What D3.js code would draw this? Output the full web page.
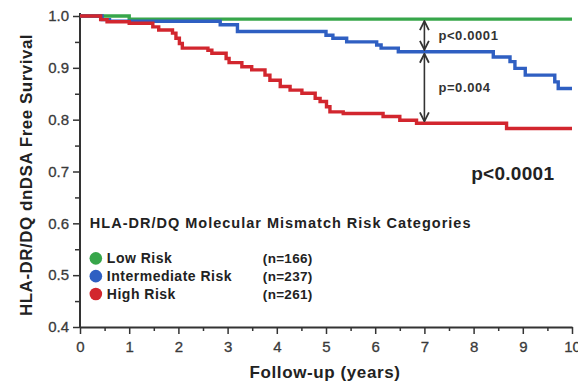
<!DOCTYPE html>
<html>
<head>
<meta charset="utf-8">
<script src="https://cdn.jsdelivr.net/npm/d3@7"></script>
<style>
  body { margin: 0; background: #fff; }
  svg { font-family: "Liberation Sans", Arial, Helvetica, sans-serif; }
</style>
</head>
<body>
<svg id="chart"></svg>
<script>
// step points: [years, survival]
const lowRisk = [[0, 1], [1.0, 0.994], [10, 0.994]];
const intermediateRisk = [[0, 1], [0.45, 0.993], [0.6, 0.99], [2.85, 0.983], [3.2, 0.970],
  [5.0, 0.963], [5.14, 0.957], [5.42, 0.950], [6.03, 0.944], [6.12, 0.938], [6.47, 0.931],
  [8.4, 0.921], [8.74, 0.912], [8.84, 0.899], [9.05, 0.886], [9.65, 0.873], [9.72, 0.860], [10, 0.860]];
const highRisk = [[0, 1], [0.42, 0.993], [0.55, 0.989], [1.0, 0.986], [1.48, 0.979], [1.6, 0.973],
  [1.88, 0.967], [1.95, 0.957], [2.02, 0.947], [2.08, 0.938], [2.6, 0.934], [2.68, 0.928],
  [2.97, 0.918], [3.03, 0.910], [3.29, 0.902], [3.49, 0.896], [3.76, 0.886], [3.86, 0.876],
  [4.07, 0.864], [4.27, 0.857], [4.51, 0.851], [4.78, 0.841], [4.88, 0.835], [5.01, 0.825],
  [5.08, 0.815], [5.35, 0.812], [6.16, 0.806], [6.5, 0.799], [6.84, 0.793], [8.67, 0.783], [10, 0.783]];

const groupNames = ['Low Risk', 'Intermediate Risk', 'High Risk'];
const groupCounts = ['(n=166)', '(n=237)', '(n=261)'];
const groupColors = ['#37a64a', '#2f5fc2', '#d2262e'];

const xTicks = [0, 1, 2, 3, 4, 5, 6, 7, 8, 9, 10];
const yTicks = [0.4, 0.5, 0.6, 0.7, 0.8, 0.9, 1.0];

// comparisons drawn at year 7
const compareAt = 7;
const compareLabels = ['p<0.0001', 'p=0.004'];
const overallP = 'p<0.0001';

const width = 578, height = 381;
const margin = {top: 16, right: 6, bottom: 54, left: 80};
const innerW = width - margin.left - margin.right;
const innerH = height - margin.top - margin.bottom;

const svg = d3.select('#chart').attr('width', width).attr('height', height);
const chart = svg.append('g').attr('transform', `translate(${margin.left},${margin.top})`);

const xscale = d3.scaleLinear().domain([0, 10]).range([0, innerW]);
const yscale = d3.scaleLinear().domain([0.4, 1.0]).range([innerH, 0]);

// minor ticks
chart.append('g')
  .attr('transform', `translate(0,${innerH})`)
  .call(d3.axisBottom(xscale).tickValues(d3.range(0.5, 10, 1)).tickSize(4).tickFormat(''))
  .call(g => g.select('.domain').remove())
  .call(g => g.selectAll('line').attr('stroke', '#333').attr('stroke-width', 1.5));
chart.append('g')
  .call(d3.axisLeft(yscale).tickValues(d3.range(0.45, 1.0, 0.1)).tickSize(5).tickFormat(''))
  .call(g => g.select('.domain').remove())
  .call(g => g.selectAll('line').attr('stroke', '#333').attr('stroke-width', 1.5));

const xaxis = chart.append('g')
  .attr('transform', `translate(0,${innerH})`)
  .call(d3.axisBottom(xscale).tickValues(xTicks).tickSize(7).tickSizeOuter(0).tickPadding(7).tickFormat(d3.format('d')));
const yaxis = chart.append('g')
  .call(d3.axisLeft(yscale).tickValues(yTicks).tickSize(7).tickSizeOuter(0).tickPadding(4).tickFormat(d3.format('.1f')));

[xaxis, yaxis].forEach(a => {
  a.select('.domain').attr('stroke', '#333').attr('stroke-width', 2);
  a.selectAll('.tick line').attr('stroke', '#333').attr('stroke-width', 1.5);
  a.selectAll('.tick text')
    .attr('font-size', '15px')
    .attr('fill', '#3a3a3a')
    .attr('stroke', '#3a3a3a')
    .attr('stroke-width', 0.3)
    .attr('font-family', 'inherit');
});
yaxis.select('.domain').attr('d', `M0,-3V${innerH}`);

// axis titles
svg.append('text')
  .attr('x', margin.left + innerW / 2 - 1)
  .attr('y', 378)
  .attr('text-anchor', 'middle')
  .attr('font-size', '17px')
  .attr('letter-spacing', '0.6px')
  .attr('font-weight', 'bold')
  .attr('fill', '#222')
  .text('Follow-up (years)');

svg.append('text')
  .attr('transform', 'rotate(-90)')
  .attr('x', -175)
  .attr('y', 32)
  .attr('text-anchor', 'middle')
  .attr('font-size', '17px')
  .attr('letter-spacing', '0.5px')
  .attr('font-weight', 'bold')
  .attr('fill', '#222')
  .text('HLA-DR/DQ dnDSA Free Survival');

// survival curves
const line = d3.line()
  .curve(d3.curveStepAfter)
  .x(d => xscale(d[0]))
  .y(d => yscale(d[1]));

[lowRisk, intermediateRisk, highRisk].forEach((s, i) => {
  chart.append('path')
    .attr('d', line(s))
    .attr('fill', 'none')
    .attr('stroke', groupColors[i])
    .attr('stroke-width', 3.4);
});

// comparison arrows at year 7
function valueAt(series, t) {
  let v = series[0][1];
  series.forEach(p => { if (p[0] <= t) v = p[1]; });
  return v;
}
const defs = svg.append('defs');
defs.append('marker')
  .attr('id', 'arrow')
  .attr('viewBox', '0 0 10 10')
  .attr('refX', 9).attr('refY', 5)
  .attr('markerWidth', 7).attr('markerHeight', 7)
  .attr('orient', 'auto-start-reverse')
  .append('path')
  .attr('d', 'M1,1L9,5L1,9')
  .attr('fill', 'none')
  .attr('stroke', '#333')
  .attr('stroke-width', 1.6);

const levels = [valueAt(lowRisk, compareAt), valueAt(intermediateRisk, compareAt), valueAt(highRisk, compareAt)];
for (let i = 0; i < 2; i++) {
  const y0 = yscale(levels[i]) + 2;
  const y1 = yscale(levels[i + 1]) - 2;
  chart.append('line')
    .attr('x1', xscale(compareAt)).attr('x2', xscale(compareAt))
    .attr('y1', y0).attr('y2', y1)
    .attr('stroke', '#333')
    .attr('stroke-width', 1.6)
    .attr('marker-start', 'url(#arrow)')
    .attr('marker-end', 'url(#arrow)');
  chart.append('text')
    .attr('x', xscale(compareAt) + 14)
    .attr('y', (y0 + y1) / 2 + 4.5)
    .attr('font-size', '13px')
    .attr('letter-spacing', '0.6px')
    .attr('font-weight', 'bold')
    .attr('fill', '#333')
    .text(compareLabels[i]);
}

chart.append('text')
  .attr('x', xscale(7.95))
  .attr('y', yscale(0.7) + 8)
  .attr('font-size', '19px')
  .attr('letter-spacing', '0.3px')
  .attr('font-weight', 'bold')
  .attr('fill', '#222')
  .text(overallP);

// legend
const legend = chart.append('g').attr('transform', `translate(${xscale(0.2)},${yscale(0.6)})`);
legend.append('text')
  .attr('x', 0).attr('y', 5)
  .attr('font-size', '14.5px')
  .attr('letter-spacing', '1px')
  .attr('font-weight', 'bold')
  .attr('fill', '#222')
  .text('HLA-DR/DQ Molecular Mismatch Risk Categories');

groupNames.forEach((name, i) => {
  const row = legend.append('g').attr('transform', `translate(0,${35 + i * 17.8})`);
  row.append('circle')
    .attr('cx', 6).attr('cy', 0).attr('r', 6.3)
    .attr('fill', groupColors[i]);
  row.append('text')
    .attr('x', 17).attr('y', 5)
    .attr('font-size', '14px')
    .attr('letter-spacing', '0.5px')
    .attr('font-weight', 'bold')
    .attr('fill', '#222')
    .text(name);
  row.append('text')
    .attr('x', 173).attr('y', 5)
    .attr('font-size', '13.5px')
    .attr('letter-spacing', '0.3px')
    .attr('font-weight', 'bold')
    .attr('fill', '#222')
    .text(groupCounts[i]);
});
</script>
</body>
</html>
